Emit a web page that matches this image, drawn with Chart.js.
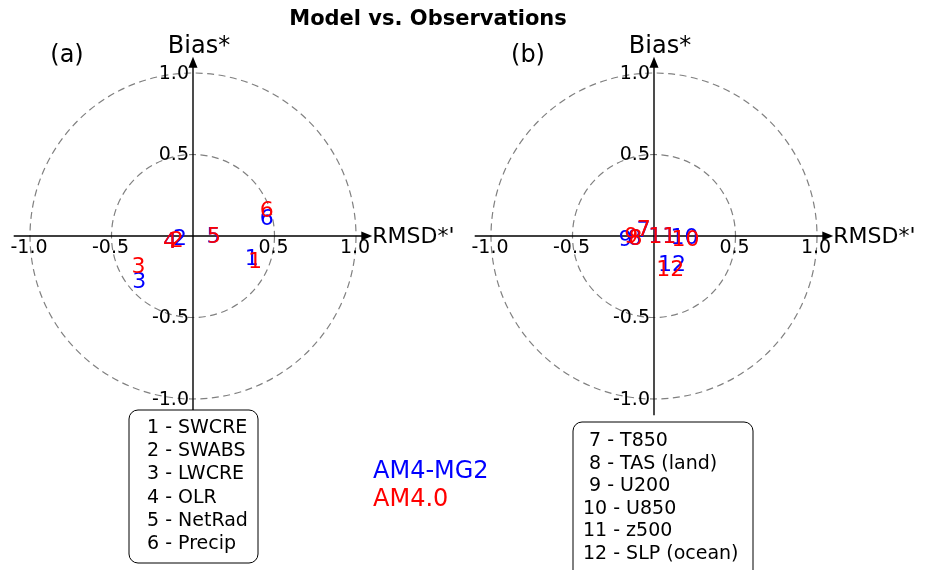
<!DOCTYPE html>
<html>
<head>
<meta charset="utf-8">
<script src="https://cdn.jsdelivr.net/npm/chart.js@4/dist/chart.umd.min.js"></script>
<style>
  html, body { margin: 0; padding: 0; background: #fff; }
  #wrap { position: relative; width: 928px; height: 570px; overflow: hidden; }
  canvas { display: block; }
</style>
</head>
<body>
<div id="wrap"><canvas id="c" width="928" height="570"></canvas></div>
<script>
// ---------- data ----------
const idsA = ['1', '2', '3', '4', '5', '6'];
const idsB = ['7', '8', '9', '10', '11', '12'];

// Panel (a): x = RMSD*', y = Bias*
const mg2A_rmsd = [0.36, -0.08, -0.33, -0.14, 0.125, 0.452];
const mg2A_bias = [-0.137, -0.014, -0.28, -0.03, 0.0, 0.108];
const am4A_rmsd = [0.38, -0.10, -0.335, -0.141, 0.129, 0.452];
const am4A_bias = [-0.158, -0.029, -0.188, -0.035, -0.004, 0.155];

// Panel (b)
const mg2B_rmsd = [-0.065, -0.118, -0.175, 0.187, 0.05, 0.111];
const mg2B_bias = [0.035, -0.012, -0.02, -0.01, 0.0, -0.172];
const am4B_rmsd = [-0.063, -0.113, -0.14, 0.193, 0.05, 0.10];
const am4B_bias = [0.04, -0.015, 0.0, -0.02, 0.0, -0.205];

const legendA = ['1 - SWCRE', '2 - SWABS', '3 - LWCRE', '4 - OLR', '5 - NetRad', '6 - Precip'];
const legendB = [' 7 - T850', ' 8 - TAS (land)', ' 9 - U200', '10 - U850', '11 - z500', '12 - SLP (ocean)'];

const tickValues = [-1.0, -0.5, 0.5, 1.0];
const tickLabels = ['-1.0', '-0.5', '0.5', '1.0'];
const circleRadii = [0.5, 1.0];
const seriesNames = ['AM4-MG2', 'AM4.0'];
const seriesColors = ['#0000ff', '#ff0000'];

// ---------- helpers ----------
function pts(xs, ys) { return xs.map((x, i) => ({ x: x, y: ys[i] })); }

// layout (pixel geometry of the two panels)
const PX = 163;            // pixels per unit
const CXA = 193, CXB = 654, CY = 236;
const AXLIM = 1.1;

const FONT = '"DejaVu Sans", "Liberation Sans", sans-serif';

function drawPanel(ctx, xs, ys, tag) {
  const cx = xs.getPixelForValue(0), cy = ys.getPixelForValue(0);
  // dashed circles
  ctx.save();
  ctx.strokeStyle = '#808080';
  ctx.lineWidth = 1.2;
  ctx.setLineDash([7, 4.5]);
  circleRadii.forEach(r => {
    const rp = xs.getPixelForValue(r) - cx;
    ctx.beginPath();
    ctx.arc(cx, cy, rp, 0, Math.PI * 2);
    ctx.stroke();
  });
  ctx.restore();

  // axes
  ctx.save();
  ctx.strokeStyle = '#000';
  ctx.fillStyle = '#000';
  ctx.lineWidth = 1.4;
  const xl = xs.getPixelForValue(-AXLIM), xr = xs.getPixelForValue(AXLIM);
  const yt = ys.getPixelForValue(AXLIM), yb = ys.getPixelForValue(-AXLIM);
  ctx.beginPath();
  ctx.moveTo(xl, cy); ctx.lineTo(xr - 8, cy);
  ctx.moveTo(cx, yb); ctx.lineTo(cx, yt + 8);
  ctx.stroke();
  // arrowheads
  ctx.beginPath();
  ctx.moveTo(xr, cy); ctx.lineTo(xr - 11, cy - 4.5); ctx.lineTo(xr - 11, cy + 4.5); ctx.closePath();
  ctx.fill();
  ctx.beginPath();
  ctx.moveTo(cx, yt); ctx.lineTo(cx - 4.5, yt + 11); ctx.lineTo(cx + 4.5, yt + 11); ctx.closePath();
  ctx.fill();

  // tick labels
  ctx.font = '19px ' + FONT;
  tickValues.forEach((v, i) => {
    const px = xs.getPixelForValue(v);
    ctx.textAlign = 'center'; ctx.textBaseline = 'top';
    ctx.fillText(tickLabels[i], px - 1, cy + 3);
    const py = ys.getPixelForValue(v);
    ctx.textAlign = 'right'; ctx.textBaseline = 'middle';
    ctx.fillText(tickLabels[i], cx - 4, py + 1);
  });

  // axis labels
  ctx.font = '22px ' + FONT;
  ctx.textAlign = 'left'; ctx.textBaseline = 'middle';
  ctx.fillText("RMSD*'", xr, cy + 1);
  ctx.font = '24px ' + FONT;
  ctx.textAlign = 'center'; ctx.textBaseline = 'alphabetic';
  ctx.fillText('Bias*', cx + 6, yt - 4);

  // panel tag
  ctx.font = '24px ' + FONT;
  ctx.textAlign = 'center'; ctx.textBaseline = 'middle';
  ctx.fillText(tag, cx - 126, 56);
  ctx.restore();
}

function drawLegendBox(ctx, x, y, w, h) {
  ctx.save();
  ctx.fillStyle = '#fff';
  ctx.strokeStyle = '#000';
  ctx.lineWidth = 1;
  const r = 9;
  ctx.beginPath();
  ctx.moveTo(x + r, y);
  ctx.lineTo(x + w - r, y); ctx.arcTo(x + w, y, x + w, y + r, r);
  ctx.lineTo(x + w, y + h - r); ctx.arcTo(x + w, y + h, x + w - r, y + h, r);
  ctx.lineTo(x + r, y + h); ctx.arcTo(x, y + h, x, y + h - r, r);
  ctx.lineTo(x, y + r); ctx.arcTo(x, y, x + r, y, r);
  ctx.closePath();
  ctx.fill(); ctx.stroke();
  ctx.restore();
}

const overlay = {
  id: 'overlay',
  beforeDatasetsDraw(chart) {
    const ctx = chart.ctx;
    const s = chart.scales;
    drawPanel(ctx, s.x, s.y, '(a)');
    drawPanel(ctx, s.x2, s.y, '(b)');

    // title
    ctx.save();
    ctx.fillStyle = '#000';
    ctx.font = 'bold 21px ' + FONT;
    ctx.textAlign = 'center'; ctx.textBaseline = 'middle';
    ctx.fillText('Model vs. Observations', 428, 20);
    ctx.restore();

    // legend boxes
    drawLegendBox(ctx, 129, 410, 129, 153);
    ctx.save();
    ctx.fillStyle = '#000'; ctx.font = '19px ' + FONT;
    ctx.textAlign = 'left'; ctx.textBaseline = 'middle';
    legendA.forEach((t, i) => ctx.fillText(t, 147, 428 + i * 23.2));
    ctx.restore();

    drawLegendBox(ctx, 573, 422, 180, 160);
    ctx.save();
    ctx.fillStyle = '#000'; ctx.font = '19px ' + FONT;
    ctx.textAlign = 'left'; ctx.textBaseline = 'middle';
    legendB.forEach((t, i) => ctx.fillText(t, 583, 441 + i * 22.6));
    ctx.restore();

    // series names
    ctx.save();
    ctx.font = '24px ' + FONT;
    ctx.textAlign = 'left'; ctx.textBaseline = 'middle';
    seriesNames.forEach((n, i) => {
      ctx.fillStyle = seriesColors[i];
      ctx.fillText(n, 373, 472 + i * 28);
    });
    ctx.restore();
  },
  afterDatasetsDraw(chart) {
    const ctx = chart.ctx;
    ctx.save();
    ctx.font = '22px ' + FONT;
    ctx.textAlign = 'center'; ctx.textBaseline = 'middle';
    chart.data.datasets.forEach((ds, di) => {
      const meta = chart.getDatasetMeta(di);
      ctx.fillStyle = ds.borderColor;
      meta.data.forEach((el, j) => {
        ctx.fillText(ds.ids[j], el.x, el.y + 1);
      });
    });
    ctx.restore();
  }
};

new Chart(document.getElementById('c'), {
  type: 'scatter',
  data: {
    datasets: [
      { label: 'AM4-MG2 (a)', ids: idsA, data: pts(mg2A_rmsd, mg2A_bias), xAxisID: 'x', yAxisID: 'y', borderColor: seriesColors[0], backgroundColor: seriesColors[0], pointRadius: 0 },
      { label: 'AM4-MG2 (b)', ids: idsB, data: pts(mg2B_rmsd, mg2B_bias), xAxisID: 'x2', yAxisID: 'y', borderColor: seriesColors[0], backgroundColor: seriesColors[0], pointRadius: 0 },
      { label: 'AM4.0 (a)', ids: idsA, data: pts(am4A_rmsd, am4A_bias), xAxisID: 'x', yAxisID: 'y', borderColor: seriesColors[1], backgroundColor: seriesColors[1], pointRadius: 0 },
      { label: 'AM4.0 (b)', ids: idsB, data: pts(am4B_rmsd, am4B_bias), xAxisID: 'x2', yAxisID: 'y', borderColor: seriesColors[1], backgroundColor: seriesColors[1], pointRadius: 0 }
    ]
  },
  options: {
    responsive: false,
    animation: false,
    devicePixelRatio: 1,
    layout: { padding: 0 },
    events: [],
    plugins: { legend: { display: false }, title: { display: false }, tooltip: { enabled: false } },
    scales: {
      x: { type: 'linear', display: false, min: -CXA / PX, max: (928 - CXA) / PX },
      x2: { type: 'linear', display: false, min: -CXB / PX, max: (928 - CXB) / PX },
      y: { type: 'linear', display: false, min: -(570 - CY) / PX, max: CY / PX }
    }
  },
  plugins: [overlay]
});
</script>
</body>
</html>
